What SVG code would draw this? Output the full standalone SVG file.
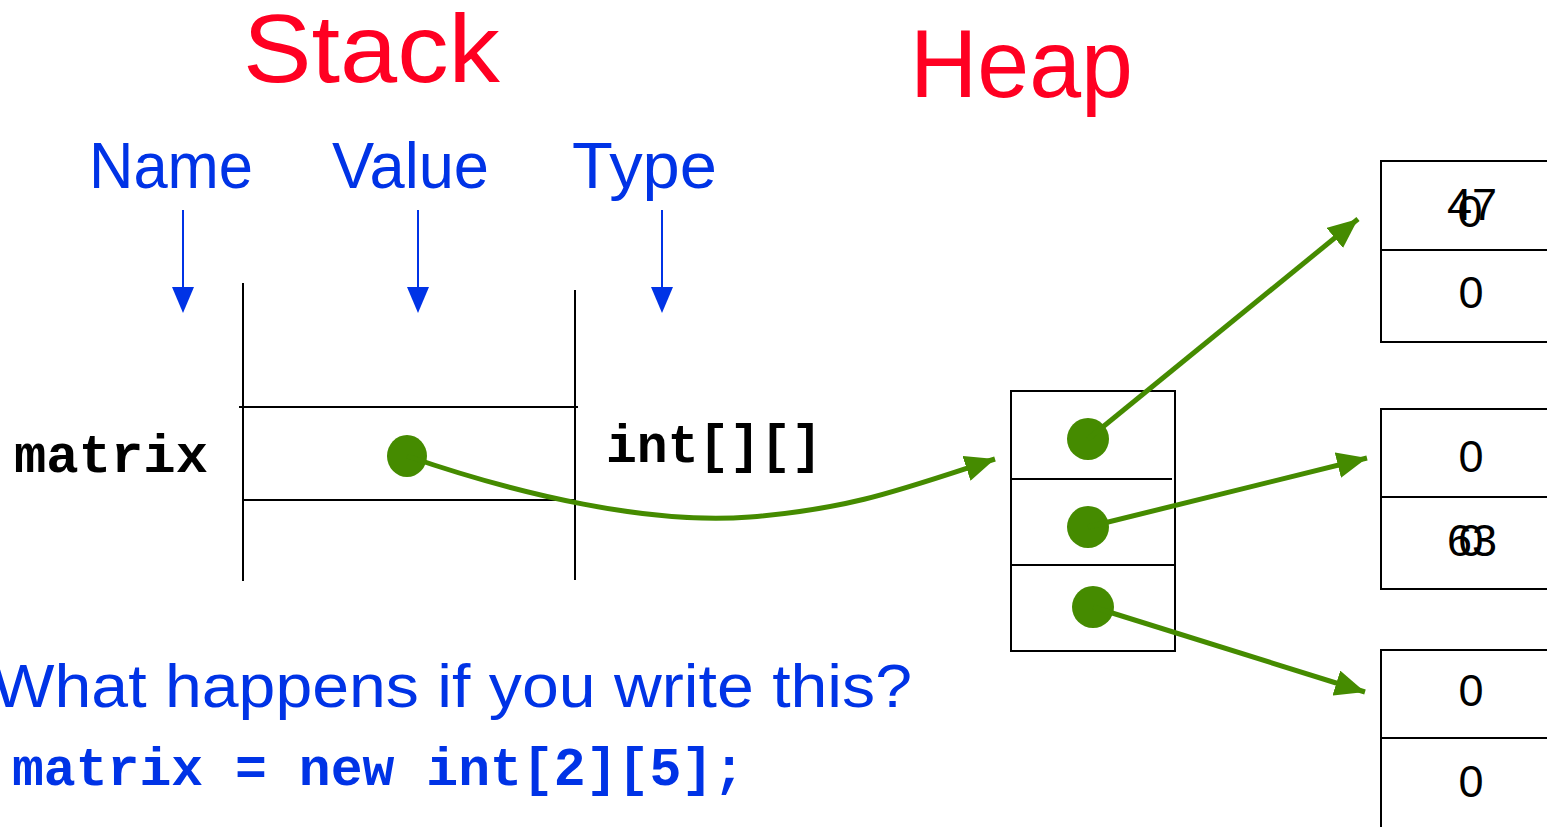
<svg xmlns="http://www.w3.org/2000/svg" width="1547" height="827" viewBox="0 0 1547 827">
<style>
.title{font-family:"Liberation Sans",Arial,sans-serif;fill:#FF0022;font-size:96px}
.hdr{font-family:"Liberation Sans",Arial,sans-serif;fill:#0033E6;font-size:64px}
.q{font-family:"Liberation Sans",Arial,sans-serif;fill:#0033E6;font-size:62px}
.code{font-family:"Liberation Mono","Courier New",monospace;font-weight:bold;font-size:53px}
.num{font-family:"Liberation Sans",Arial,sans-serif;fill:#000;font-size:45px;text-anchor:middle}
.blk{stroke:#000;stroke-width:2;fill:none}
.bl{stroke:#0033E6;stroke-width:2;fill:none}
.gr{stroke:#458B00;stroke-width:5;fill:none;marker-end:url(#ga)}
.dot{fill:#458B00}
</style>
<defs>
<marker id="ga" markerUnits="userSpaceOnUse" markerWidth="32" markerHeight="26" refX="30" refY="13" orient="auto">
<path d="M0,0 L30,13 L0,26 Z" fill="#458B00"/>
</marker>
</defs>
<g id="titles">
<text class="title" x="243" y="82" textLength="257" lengthAdjust="spacingAndGlyphs">Stack</text>
<text class="title" x="910" y="97" textLength="223" lengthAdjust="spacingAndGlyphs">Heap</text>
</g>
<g id="headers">
<text class="hdr" x="89" y="188" textLength="164" lengthAdjust="spacingAndGlyphs">Name</text>
<text class="hdr" x="332" y="188" textLength="157" lengthAdjust="spacingAndGlyphs">Value</text>
<text class="hdr" x="572" y="188" textLength="145" lengthAdjust="spacingAndGlyphs">Type</text>
<line class="bl" x1="183" y1="210" x2="183" y2="290"/>
<path d="M172,287 L194,287 L183,313 Z" fill="#0033E6"/>
<line class="bl" x1="418" y1="210" x2="418" y2="290"/>
<path d="M407,287 L429,287 L418,313 Z" fill="#0033E6"/>
<line class="bl" x1="662" y1="210" x2="662" y2="290"/>
<path d="M651,287 L673,287 L662,313 Z" fill="#0033E6"/>
</g>
<g id="stack">
<line class="blk" x1="243" y1="283" x2="243" y2="581"/>
<line class="blk" x1="575" y1="290" x2="575" y2="580"/>
<line class="blk" x1="239" y1="407" x2="578" y2="407"/>
<line class="blk" x1="243" y1="500" x2="575" y2="500"/>
<text class="code" x="14" y="472" fill="#000" textLength="194" lengthAdjust="spacingAndGlyphs">matrix</text>
<text class="code" x="606" y="462" fill="#000" textLength="216" lengthAdjust="spacingAndGlyphs">int[][]</text>
<ellipse class="dot" cx="407" cy="456" rx="20" ry="21"/>
</g>
<g id="heap-outer">
<rect class="blk" x="1011" y="391" width="164" height="260"/>
<line class="blk" x1="1011" y1="479" x2="1172" y2="479"/>
<line class="blk" x1="1011" y1="565" x2="1175" y2="565"/>
<circle class="dot" cx="1088" cy="439" r="21"/>
<circle class="dot" cx="1088" cy="527" r="21"/>
<circle class="dot" cx="1093" cy="607" r="21"/>
</g>
<g id="row0">
<rect class="blk" x="1381" y="161" width="180" height="181"/>
<line class="blk" x1="1381" y1="250" x2="1547" y2="250"/>
<text class="num" x="1472" y="220">47</text>
<text class="num" x="1470" y="227">0</text>
<text class="num" x="1471" y="308">0</text>
</g>
<g id="row1">
<rect class="blk" x="1381" y="409" width="180" height="180"/>
<line class="blk" x1="1381" y1="497" x2="1547" y2="497"/>
<text class="num" x="1471" y="472">0</text>
<text class="num" x="1472" y="556">63</text>
<text class="num" x="1471" y="556">0</text>
</g>
<g id="row2">
<rect class="blk" x="1381" y="650" width="180" height="200"/>
<line class="blk" x1="1381" y1="738" x2="1547" y2="738"/>
<text class="num" x="1471" y="706">0</text>
<text class="num" x="1471" y="797">0</text>
</g>
<g id="connectors">
<path class="gr" d="M407,456 C520,495 650,525 750,517 S900,490 995,459"/>
<line class="gr" x1="1088" y1="439" x2="1358" y2="219"/>
<line class="gr" x1="1088" y1="527" x2="1367" y2="458"/>
<line class="gr" x1="1093" y1="607" x2="1365" y2="692"/>
</g>
<g id="question">
<text class="q" x="-8" y="707" textLength="920" lengthAdjust="spacingAndGlyphs">What happens if you write this?</text>
<text class="code" x="12" y="785" fill="#0033E6" textLength="733" lengthAdjust="spacingAndGlyphs">matrix = new int[2][5];</text>
</g>
</svg>
